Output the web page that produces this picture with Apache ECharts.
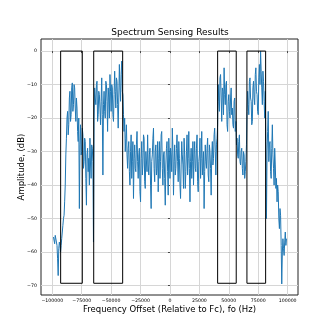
<!DOCTYPE html>
<html>
<head>
<meta charset="utf-8">
<script src="https://cdn.jsdelivr.net/npm/echarts@6/dist/echarts.min.js"></script>
<style>
  html, body { margin: 0; padding: 0; background: #fff; }
  #chart { width: 332px; height: 332px; }
</style>
</head>
<body>
<div id="chart"></div>
<script>
  // spectrum bins, 0.5 kHz apart
  const freqStart = -99000
  const freqStep = 500
  const amplitude = [
    -55.5, -56, -57.5, -55, -54.5, -57, -58, -62, -67, -59, -57, -58, -60, -58, -56, -54, -52, -50, -49, -45,
    -40, -31, -26, -20, -18, -25, -22, -14, -12, -21, -19, -11, -9.5, -18, -16, -10, -11, -17, -21, -14,
    -17, -24, -27, -20, -47, -28, -22, -31, -30, -23, -25, -35, -33, -26, -27, -38, -46, -31, -29, -36,
    -32, -40, -26, -34, -38, -28, -29, -33, -57, -20, -11, -14, -16, -10, -9, -21, -19, -12, -13, -17,
    -22, -15, -8, -19, -37, -16, -12, -18, -20, -9, -10, -15, -24, -11, -14, -20, -7, -12, -18, -10,
    -11, -19, -21, -13, -6, -12, -17, -8, -9, -16, -23, -14, -4, -11, -15, -7, -3, -12, -13, -19,
    -24, -20, -30, -26, -22, -31, -35, -29, -27, -36, -40, -30, -25, -38, -33, -27, -44, -32, -28, -35,
    -36, -28, -24, -33, -38, -31, -29, -42, -45, -32, -27, -37, -34, -25, -26, -39, -41, -30, -30, -36,
    -25, -34, -37, -31, -29, -40, -47, -33, -31, -26, -23, -35, -39, -30, -28, -37, -35, -27, -42, -32,
    -27, -38, -33, -25, -24, -35, -40, -31, -30, -38, -46, -34, -29, -27, -36, -43, -26, -31, -38, -29,
    -31, -36, -23, -30, -43, -33, -28, -37, -35, -29, -25, -33, -39, -27, -32, -40, -44, -34, -27, -31,
    -34, -41, -26, -31, -41, -36, -30, -25, -37, -32, -24, -35, -45, -33, -29, -38, -33, -27, -40, -31,
    -27, -35, -36, -29, -25, -39, -42, -33, -31, -26, -38, -32, -24, -37, -34, -30, -47, -36, -28, -33,
    -35, -29, -26, -37, -39, -28, -30, -35, -43, -31, -27, -34, -32, -25, -23, -30, -37, -28, -26, -22,
    -10, -15, -18, -8, -7, -14, -21, -11, -12, -19, -5, -13, -16, -10, -9, -22, -24, -15, -13, -18,
    -20, -14, -11, -19, -17, -22, -23, -15, -14, -24, -21, -28, -26, -31, -32, -27, -25, -33, -34, -30,
    -29, -35, -37, -30, -31, -38, -36, -33, -28, -18, -12, -16, -19, -9, -8, -14, -15, -22, -21, -11,
    -9, -14, -16, -7, -5, -12, -13, -18, -19, -8, -4, -10, 0, -6, -11, -16, -6, -9, -15, -20,
    -12, -27, -50, -30, -24, -18, -33, -28, -27, -36, -38, -29, -22, -31, -35, -40, -29, -34, -41, -38,
    -45, -40, -42, -50, -53, -47, -49, -58, -69.5, -60, -56, -59, -61, -57, -54, -58, -56
  ]

  // detected occupied bands
  const bandStart = [-92900, -64800, 40500, 65400]
  const bandEnd = [-74500, -40200, 56300, 81300]
  const bandTop = 0
  const bandBottom = -69.3

  const xTicks = [-100000, -75000, -50000, -25000, 0, 25000, 50000, 75000, 100000]
  const yTicks = [0, -10, -20, -30, -40, -50, -60, -70]

  const lineData = amplitude.map((v, i) => [freqStart + i * freqStep, v])

  const minusSign = v => String(v).replace('-', '\u2212')

  const bandSeries = bandStart.map((x0, i) => ({
    type: 'line',
    data: [[x0, bandBottom], [x0, bandTop], [bandEnd[i], bandTop], [bandEnd[i], bandBottom], [x0, bandBottom]],
    showSymbol: false,
    symbol: 'none',
    lineStyle: { color: '#000', width: 1 },
    z: 3
  }))

  const option = {
    animation: false,
    title: {
      text: 'Spectrum Sensing Results',
      left: 170,
      top: 28,
      textAlign: 'center',
      padding: 0,
      textStyle: { fontFamily: 'DejaVu Sans', fontSize: 9, fontWeight: 'normal', color: '#000' }
    },
    grid: {
      left: 41, top: 39, right: 34, bottom: 37,
      show: true,
      borderColor: '#222',
      borderWidth: 1
    },
    xAxis: {
      type: 'value',
      min: -109600,
      max: 108800,
      name: 'Frequency Offset (Relative to Fc), fo (Hz)',
      nameLocation: 'middle',
      nameGap: 10,
      nameMoveOverlap: false,
      nameTextStyle: { fontFamily: 'DejaVu Sans', fontSize: 8.5, color: '#000' },
      axisLine: { show: false },
      axisTick: { show: true, length: 2, customValues: xTicks, lineStyle: { color: '#222', width: 0.8 } },
      axisLabel: {
        customValues: xTicks,
        margin: 3,
        fontFamily: 'DejaVu Sans',
        fontSize: 4.7,
        color: '#000',
        formatter: minusSign
      },
      splitLine: { show: true, lineStyle: { color: '#d6d6d6', width: 1 } }
    },
    yAxis: {
      type: 'value',
      min: -72.8,
      max: 3.6,
      name: 'Amplitude, (dB)',
      nameLocation: 'middle',
      nameRotate: 90,
      nameGap: 15,
      nameMoveOverlap: false,
      nameTextStyle: { fontFamily: 'DejaVu Sans', fontSize: 8.5, color: '#000' },
      axisLine: { show: false },
      axisTick: { show: true, length: 2, customValues: yTicks, lineStyle: { color: '#222', width: 0.8 } },
      axisLabel: {
        customValues: yTicks,
        margin: 4,
        fontFamily: 'DejaVu Sans',
        fontSize: 4.7,
        color: '#000',
        formatter: minusSign
      },
      splitLine: { show: true, lineStyle: { color: '#d6d6d6', width: 1 } }
    },
    series: [
      {
        type: 'line',
        data: lineData,
        showSymbol: false,
        symbol: 'none',
        lineStyle: { color: '#1f77b4', width: 1 },
        z: 2
      }
    ].concat(bandSeries)
  }

  const chart = echarts.init(document.getElementById('chart'))
  chart.setOption(option)
</script>
</body>
</html>
